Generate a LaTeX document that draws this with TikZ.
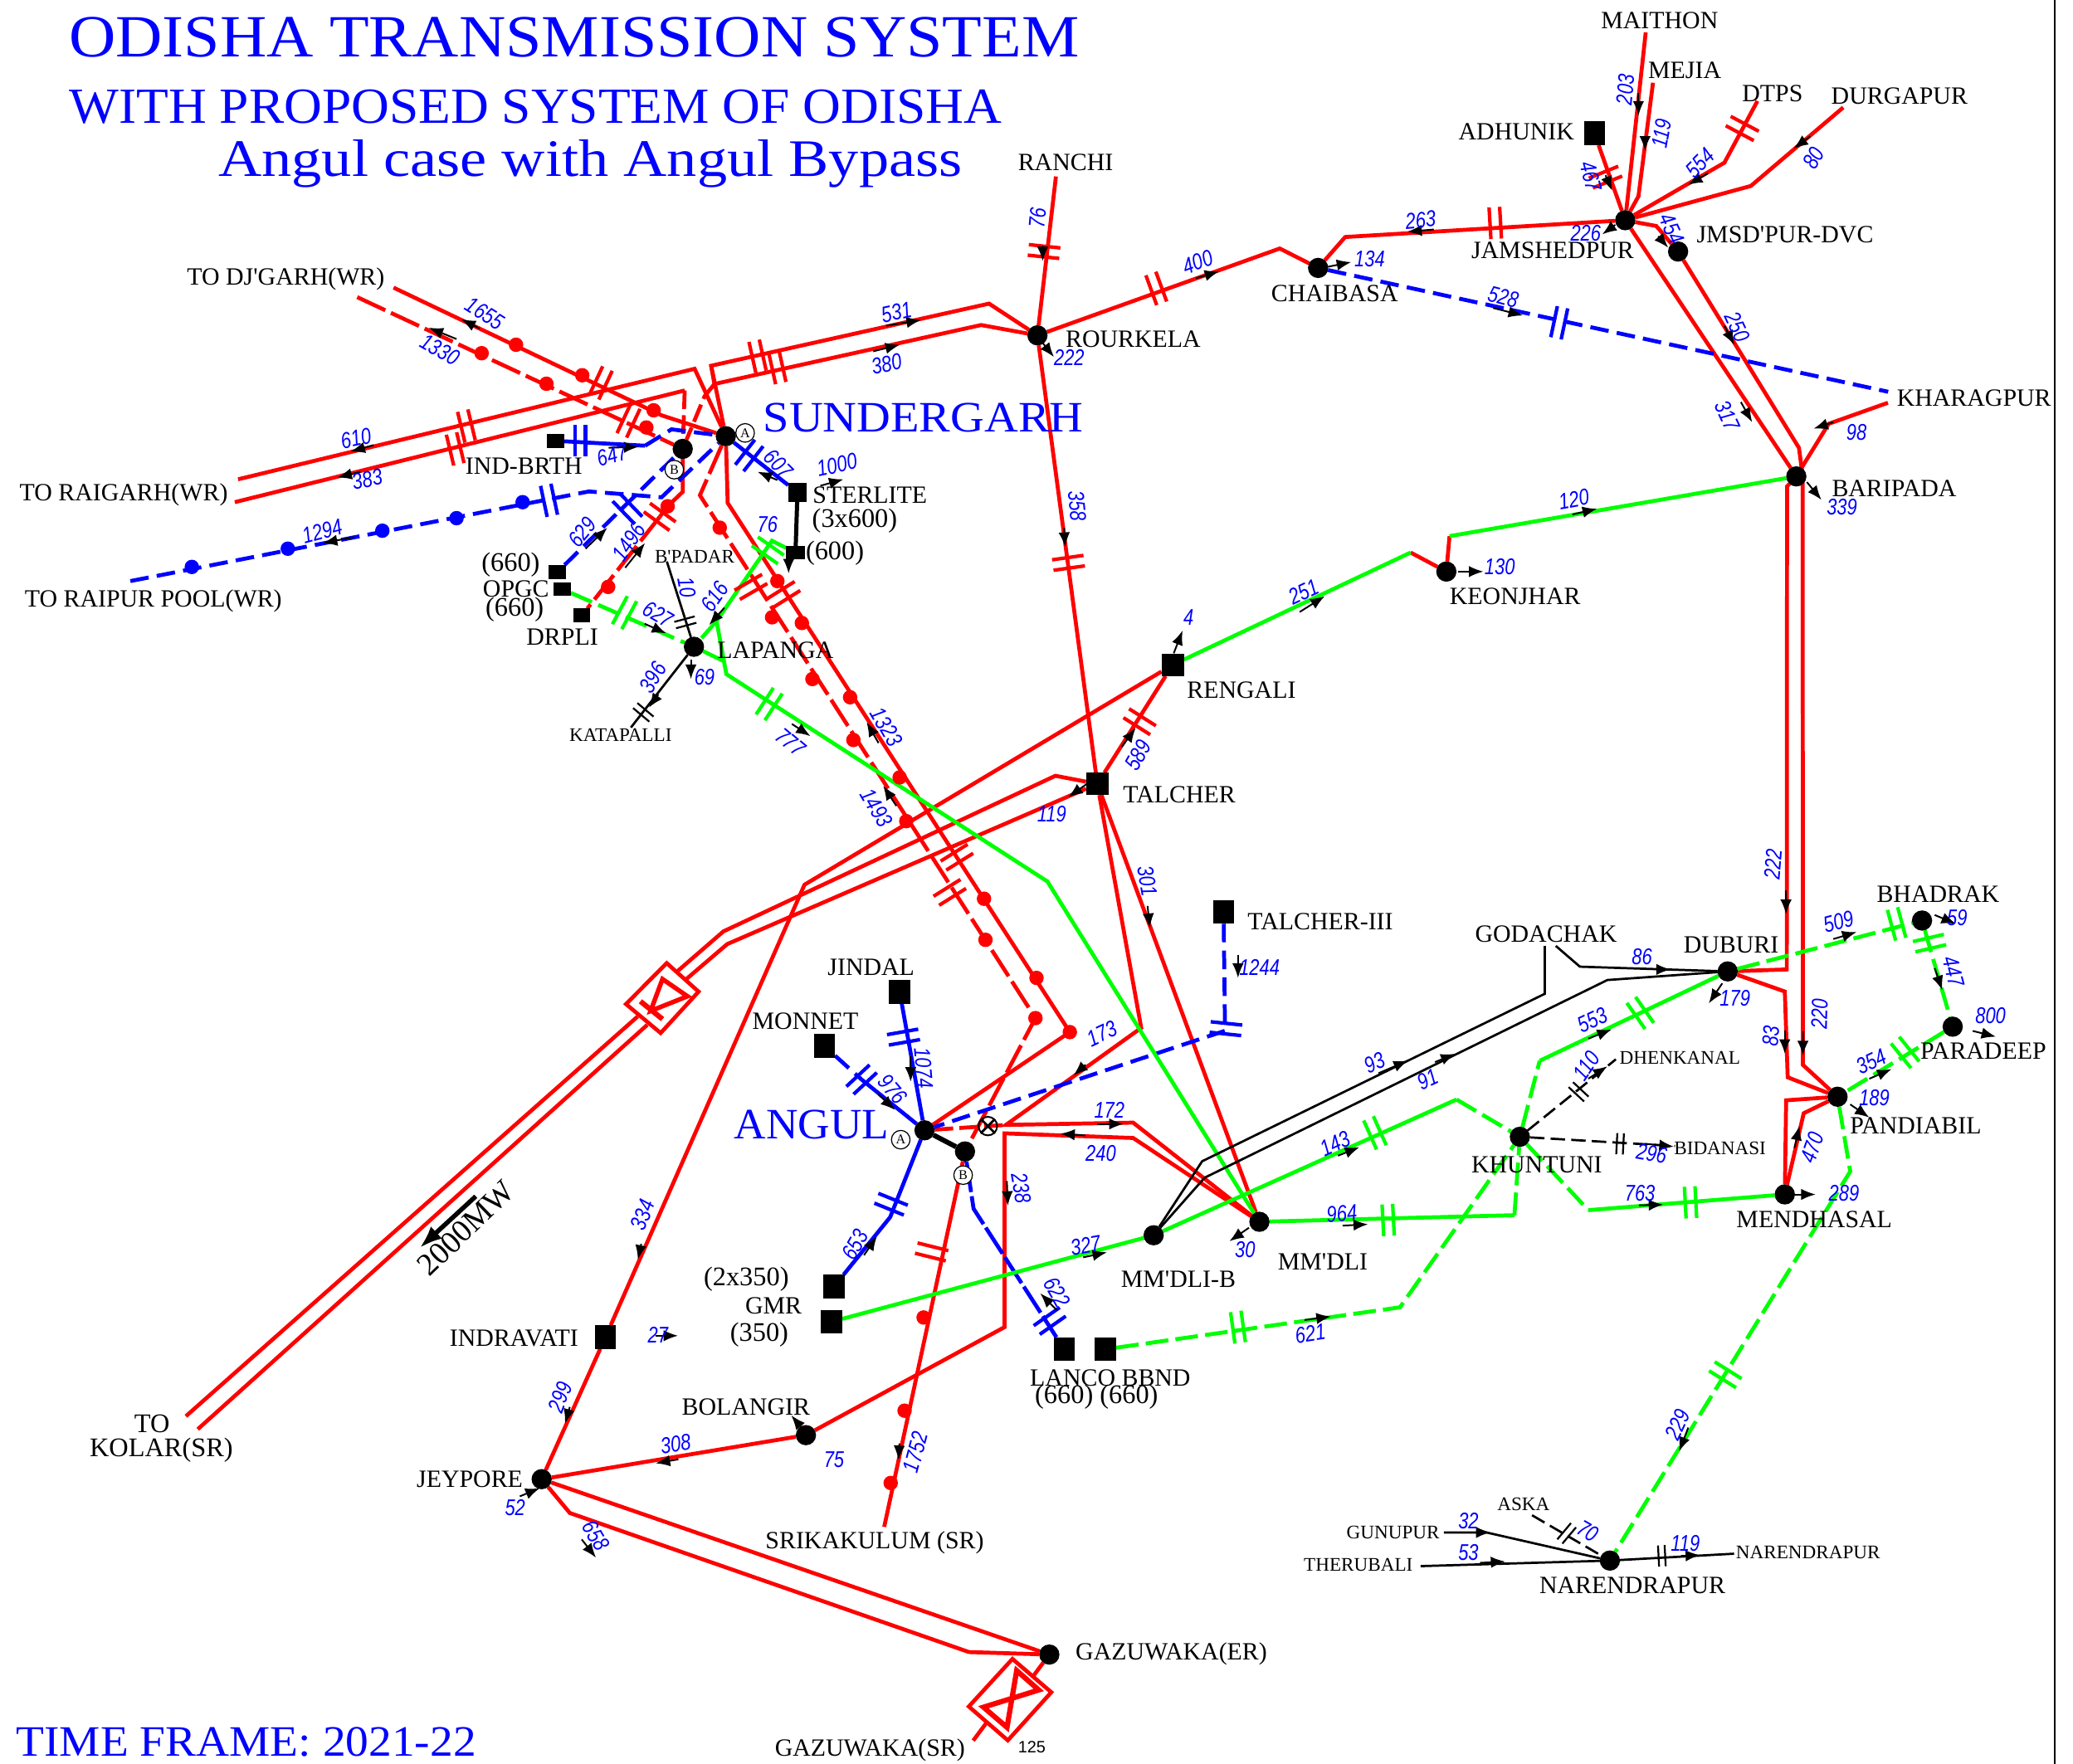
\documentclass[tikz,border=0pt]{standalone}
\usepackage{fontspec}
\usetikzlibrary{arrows.meta}
\setmainfont{Liberation Serif}
\newfontfamily\numf{Liberation Sans}
\newcommand\numtxt[1]{\scalebox{.8}[1]{#1}}
\newcommand\plab[1]{{\fontsize{13}{15}\selectfont #1}}
\definecolor{rd}{rgb}{1,0,0}
\definecolor{bl}{rgb}{0,0,1}
\definecolor{gr}{rgb}{0,1,0}
\pgfdeclarelayer{lines}
\pgfsetlayers{lines,main}
\tikzset{
  stn/.style={circle,fill=black,minimum size=9.8pt,inner sep=0pt,outer sep=0pt},
  sq/.style 2 args={rectangle,fill=black,minimum width=#1*0.64pt,minimum height=#2*0.64pt,inner sep=0pt,outer sep=0pt},
  tagc/.style={circle,draw=black,line width=.5pt,fill=white,minimum size=9pt,inner sep=0pt,font=\fontsize{6.5}{7}\selectfont},
  lab/.style={text=black,inner sep=0pt,font=\fontsize{12}{14}\selectfont},
  labs/.style={text=black,inner sep=0pt,font=\fontsize{9.3}{11}\selectfont},
  ttl/.style={text=bl,anchor=west,inner sep=0pt},
  numlab/.style={text=bl,inner sep=0pt,font=\fontsize{11}{12}\selectfont\numf\itshape},
  lr/.style={draw=rd,line width=1.9pt,line join=miter},
  lrd/.style={lr,dash pattern=on 15pt off 3pt},
  lrs/.style={lr,dash pattern=on 9pt off 3pt},
  lb/.style={draw=bl,line width=1.9pt},
  lbd/.style={lb,dash pattern=on 9pt off 4pt},
  lbw/.style={lb,dash pattern=on 15pt off 2pt},
  lg/.style={draw=gr,line width=1.9pt},
  lgd/.style={lg,dash pattern=on 11pt off 3.5pt},
  lk/.style={draw=black,line width=1.1pt},
  lkd/.style={lk,dash pattern=on 7pt off 3pt},
  flowarrow/.style={draw=black,line width=.8pt,-{Latex[length=7pt,width=5.5pt]}},
  tkr/.style={draw=rd,line width=1.7pt},
  tkb/.style={draw=bl,line width=1.7pt},
  tkg/.style={draw=gr,line width=1.7pt},
  tkk/.style={draw=black,line width=.9pt},
}
\newcommand\tk[4][]{\begin{scope}[shift={(#2,#3)},rotate=#4]\draw[#1] (-4,-12)--(-4,12) (4,-12)--(4,12);\end{scope}}
\newcommand\tks[4][]{\begin{scope}[shift={(#2,#3)},rotate=#4]\draw[#1] (-2.5,-8)--(-2.5,8) (2.5,-8)--(2.5,8);\end{scope}}
\begin{document}
\begin{tikzpicture}[x=0.64pt,y=-0.64pt]
\useasboundingbox (0,0) rectangle (1568,1334.4);
% stations
\foreach \nm/\x/\y in {SUA/549/330,SUB/516.4/339.6,ROU/784.7/253.7,CHA/997/202.7,JAM/1229.3/166.6,DVC/1269.3/190.3,BAR/1358.7/360.4,KEO/1094/432.4,LAP/524.9/489.3,ANA/699.3/855.1,ANB/729.9/871.1,MMB/872.6/934.5,MMD/952.6/924.3,KHU/1149.6/860,DUB/1306.8/734.9,BHA/1453.8/696.4,PAR/1477/776.7,PAN/1389.9/829.7,MEN/1350/903.6,NAR/1217.7/1180.6,GZE/793.7/1251.7,JEY/409.7/1119,BOL/609.6/1085.7}
  \node[stn] (\nm) at (\x,\y) {};
\foreach \nm/\x/\y/\w/\h in {INB/420.3/333.5/13/11,STR/603.2/372.5/14/14,SSX/601.7/418.1/14/10,OPA/421.7/432.7/13/10.5,OPB/425.3/445.7/13/10.5,DRP/440.1/465.6/13/10.5,REN/887/503/17/17,TAL/830/593/17/17,TCT/925.5/689.8/16/18,JIN/680.5/750.4/16/18,MON/623.6/791.4/16/18,GMA/630.8/973.3/16/18,GMB/629/999.9/16/18,IVT/458/1011.5/16/18,LAN/804.9/1020.7/16/18,BBN/836.2/1020.7/16/18,ADH/1206/100.9/16/18}
  \node[sq={\w}{\h}] (\nm) at (\x,\y) {};
% free ends
\foreach \nm/\x/\y in {djs/297.7/217.6,djd/270.2/224.8,raiU/180.1/362.6,raiL/177.6/379.9,raipur/98.6/439.6,ranchi/798.7/133.5,maithon/1244.8/24.5,mejia/1250.3/62.6,dtps/1329.3/76.4,durg/1394.2/81.3,khar/1428/304.7,kharb/1428.2/296.4,kolU/140.6/1071.4,kolL/149.6/1081.2,srik/668.8/1155.1,godA/1168.5/715.6,godB/1176.8/715.6,dhen/1222.2/801.4,bida/1267/867,gunu/1092.1/1159.3,theru/1074.5/1184.8,aska/1158.8/1146.3,nartwo/1311.6/1175.4,bpad/504.4/424.8,kata/477.2/550.4,gzsr/736.1/1316.8}
  \coordinate (\nm) at (\x,\y);
\begin{pgfonlayer}{lines}
% red lines
\draw[lr] (djs)--(500.4,314.2)--(SUA);
\draw[lrd] (djd)--(SUB);
\draw[lr] (raiU)--(525.4,279)--(SUA);
\draw[lr] (raiL)--(517.9,295.4);
\draw[lrs] (517.9,295.4)--(SUB);
\draw[lr] (SUA)--(537.9,276.7)--(748.1,229.7)--(ROU);
\draw[lr] (537.9,276.7)--(540.4,290.5)--(742.1,245.9)--(ROU);
\draw[lrs] (540.4,290.5)--(532.9,299.8)--(SUB);
\draw[lr] (SUB)--(516.5,372)--(505,383)--(499,391);
\draw[lrd] (499,391)--(DRP);
\draw[lr] (SUA)--(550.4,380.5)--(809.2,780.8)--(ANA);
\draw[lrd] (SUA)--(529.4,374.7)--(783.2,770.2)--(ANB);
\draw[lrs] (ANA)--(760.9,851);
\draw[lr] (ranchi)--(ROU);
\draw[lr] (ROU)--(968,188)--(CHA);
\draw[lr] (CHA)--(1017.5,179.3)--(JAM);
\draw[lr] (ADH)--(JAM);
\draw[lr] (maithon)--(JAM);
\draw[lr] (mejia)--(1239.3,148.5)--(JAM);
\draw[lr] (dtps)--(1304.3,123.1)--(JAM);
\draw[lr] (durg)--(1324.3,140.7)--(JAM);
\draw[lr] (JAM)--(1252.8,171)--(DVC);
\draw[lr] (DVC)--(1360.7,338.8)--(1363.5,360)--(1363.7,805.6)--(PAN);
\draw[lr] (JAM)--(BAR);
\draw[lr] (khar)--(1383.2,320.6)--(BAR);
\draw[lr] (BAR)--(1351.7,368)--(1351.5,733.4)--(DUB);
\draw[lr] (DUB)--(1350,750.1)--(1352.2,815)--(PAN);
\draw[lr] (PAN)--(1351,832.4)--(MEN);
\draw[lr] (PAN)--(1364.3,842.2)--(MEN);
\draw[lr] (ROU)--(TAL);
\draw[lr] (TAL)--(REN);
\draw[lr] (REN)--(608.5,669.3)--(IVT)--(JEY);
\draw[lr] (TAL)--(798.3,586.9)--(547.2,704.6)--(512.7,734.5);
\draw[lr] (TAL)--(550.1,714.2)--(519,740.8);
\draw[lr] (482.3,769)--(kolU);
\draw[lr] (489.6,775.3)--(kolL);
\draw[lr] (TAL)--(863.2,777.6)--(760.9,851)--(857.1,849.3)--(MMD);
\draw[lr] (TAL)--(MMD);
\draw[lr] (MMD)--(857.1,860.9)--(759.8,857.4)--(759.8,1004)--(BOL);
\draw[lr] (BOL)--(JEY);
\draw[lr] (ANB)--(srik);
\draw[lr] (JEY)--(GZE);
\draw[lr] (JEY)--(431,1144.6)--(732.9,1249.8)--(GZE);
\draw[lr] (GZE)--(781.5,1268);
\draw[lr] (746,1303.5)--(gzsr);
\draw[lr] (KEO)--(1067,418);
\draw[lr] (KEO)--(1096.4,405.6);
% converter boxes
\draw[lr,line join=miter] (504.3,728.6)--(528.4,750.2)--(499.7,781.5)--(473.5,759.6)--cycle;
\draw[lr,line width=2.5pt] (484.4,757.5)--(501.1,771);
\draw[lr,line width=2.2pt] (501.1,740.7)--(520,753.7)--(492.1,764.8)--cycle;
\draw[lr] (765.8,1255)--(795.2,1280.2)--(762.3,1316.6)--(732.8,1291)--cycle;
\draw[lr,line width=2.5pt] (769,1263.8)--(785.7,1278.5)--(743.9,1291.5)--(761.7,1306.8)--cycle;
% blue lines
\draw[lb] (INB)--(487.9,337.2);
\draw[lbd] (487.9,337.2)--(507.9,324.8)--(SUA);
\draw[lbd] (raipur)--(445.4,371.8)--(500.4,376.2)--(SUA);
\draw[lbd] (OPA)--(SUB);
\draw[lb] (SUA)--(STR);
\draw[lbd] (TCT)--(926.6,779.8)--(ANA);
\draw[lb] (JIN)--(ANA);
\draw[lbd] (MON)--(651.7,816.7);
\draw[lb] (651.7,816.7)--(ANA);
\draw[lb] (ANA)--(673.3,920.8)--(GMA);
\draw[lbw] (ANB)--(736.4,914.4)--(LAN);
\draw[lbd] (CHA)--(kharb);
% green lines
\draw[lg] (SSX)--(583.9,409.1)--(542,469.8)--(549.4,510)--(792.2,666.8)--(MMD);
\draw[lgd] (542,469.8)--(LAP);
\draw[lgd] (OPB)--(LAP);
\draw[lgd] (LAP)--(547.3,500.1);
\draw[lg] (REN)--(1067,418);
\draw[lg] (1096.4,405.6)--(BAR);
\draw[lg] (GMB)--(MMB)--(1101.7,831.8);
\draw[lgd] (1101.7,831.8)--(KHU);
\draw[lg] (MMD)--(1145.5,919.3);
\draw[lgd] (1145.5,919.3)--(KHU);
\draw[lgd] (KHU)--(1201.4,915.5);
\draw[lg] (1201.4,915.5)--(MEN);
\draw[lgd] (KHU)--(1164.6,802.5);
\draw[lg] (1164.6,802.5)--(DUB);
\draw[lgd] (DUB)--(BHA);
\draw[lgd] (BHA)--(1469,749)--(PAR);
\draw[lgd] (PAR)--(PAN);
\draw[lgd] (PAN)--(1399.5,886.2)--(NAR);
\draw[lgd] (BBN)--(1058.9,989)--(KHU);
% black lines
\draw[lk] (MMB)--(909.3,878.5)--(1168.5,751.8)--(godA);
\draw[lk] (MMB)--(911.1,891)--(1215.8,741.4)--(DUB);
\draw[lk] (godB)--(1195,731.3)--(DUB);
\draw[lkd] (KHU)--(dhen);
\draw[lkd] (KHU)--(bida);
\draw[lk] (gunu)--(1124.2,1159.3)--(NAR);
\draw[lk] (theru)--(NAR);
\draw[lkd] (aska)--(NAR);
\draw[lk] (NAR)--(nartwo);
\draw[lk] (bpad)--(LAP);
\draw[lk] (LAP)--(kata);
\draw[black,line width=2.4pt] (ANA)--(ANB);
\draw[black,line width=2pt] (STR)--(SSX);
\draw[black,line width=2.2pt,-{Latex[length=11pt,width=8pt]}] (359.9,905)--(317.4,944.1);
% ticks
\foreach \x/\y/\a in {454.4/289.7/-25,475.4/318.5/-25,352.8/322.3/13.5,344.3/339.6/13.5,573/269.5/12.5,588/278.1/12.5,499/391/54,593/449.7/-58,568/444/-60,723.8/648.5/-58,718.4/675.1/-58,704.7/947.1/76,789.7/190.3/84,808.2/425.8/-82,862/546/57.6,874.6/218.2/20,1131/168.7/3.4,1317.8/97.2/62,1214.4/134/-68}
  \tk[tkr]{\x}{\y}{\a};
\foreach \x/\y/\a in {438.9/333.5/0,415.3/378.5/12,474.6/385/44,566.7/344.6/-38,1179.4/244.2/-12,683.4/784.6/-80,651.7/816.7/-47,674/911/68,927.3/778.2/84,794/999.3/-55}
  \tk[tkb]{\x}{\y}{\a};
\foreach \x/\y/\a in {580.8/416.4/55,472.4/463.5/-28,581.8/532.6/-33,1434.6/698.9/15,1459.5/713.5/-77,1441/796.2/39,1240.7/766.3/35,1278.7/909.6/3,1040/857/24,1050/923/3,936.4/1004/8,1305/1040/58}
  \tk[tkg]{\x}{\y}{\a};
\foreach \x/\y/\a in {518.4/470.8/-75,486.6/538.9/50,1194/826/47,1225.4/865.3/-3,1185/1160/-40,1257/1177/3}
  \tks[tkk]{\x}{\y}{\a};
% line dots
\foreach \x/\y in {390.3/260.8,440.4/283.9,494.4/310.4,364.3/267.2,413.3/290.3,488.9/323.4,505/383,460/444,588/439.6,606.5/471.3,643/527.5,680.5/588.1,744.3/679.9,784/739.8,809.2/780.8,544.4/399.2,584/467,614.5/513.7,645.5/559.8,685.5/621.2,745.4/711,783.2/770.2,698.6/996.7,684.2/1067.2,673.7/1121.9}
  \fill[rd] (\x,\y) circle (3.5pt);
\foreach \x/\y in {145.1/428.9,217.7/415.1,289.2/401.5,345.3/392,395.3/379.9}
  \fill[bl] (\x,\y) circle (3.5pt);
% border
\draw[black,line width=.9pt] (1554,0)--(1554,1334.4);
\end{pgfonlayer}
% flow arrows
\foreach \a/\b/\c/\d in {362.8/248.5/348.8/241.5,345.3/256.5/324.3/247.9,282.7/336.7/265.2/341.6,272.7/356.9/255.2/361.2,670.5/246.4/696.6/242.1,660.5/265.8/680.6/260.8,267.7/406.4/244.2/410.8,460.4/338.7/482.9/338.1,588/363.2/573/356.9,620.5/367.5/638/362.6,442.9/415.1/459.4/399.2,472.9/429.5/487.9/410.8,596.5/422.3/596.5/433.8,547.9/459.8/536.4/472.8,487.6/471.9/504/479.2,522.6/499/522.6/513.7,498/525.3/490.8/535.3,599/547.7/613/556.9,664.5/562.1/655.5/546.3,678/609.7/668/594.4,
788.7/186/788.7/197.5,788.7/259.5/797.2/270.1,904.6/210.5/922.1/205.3,1004.5/201.8/1022/198.3,1084.5/173.6/1064.5/175.3,1221.8/170.1/1211.9/177.3,1214.4/132.6/1219.4/144.2,1239.3/70.6/1239.3/87.4,1244.3/105.2/1244.3/113.9,1291.8/131.2/1276.8/139.8,1369.2/103.2/1356.7/112.4,1254.3/178.7/1261.8/187.4,1129.4/233/1151.9/238.7,1304.3/246.5/1311.8/260.9,1316.8/304.2/1325.3/319.4,1386.7/319.4/1371.7/324.3,1366.7/364.7/1377.7/378.2,1189.4/389.2/1207.9/384.9,1103/432.4/1122/432.4,804.7/399.3/805.7/413.7,983/463/1002/451,887.8/494.2/894.5/477,848.5/565/859/550.7,822.4/592.8/808.1/603,
868/685.4/869.7/702,936.4/722.2/936.4/739.8,821.1/805.5/812/813.5,688.8/799/688.8/818.3,664.3/827.9/677/839.7,830.1/850.3/849.9/850.3,821.1/859/802/857.7,761.6/893.5/762.3/912.1,653.5/949.6/663.3/935.2,1042.7/811.9/1065/802.3,1012/874.3/1028.2/867.9,1015.6/927.2/1034.7/926.2,819.3/951.2/837.3/947.4,799.4/991.2/786.8/978.4,986.8/998.6/1006.6/996,944.7/928.8/929.9/939,680.3/1092/679.6/1104.5,513.1/1104/495.9/1107,605.7/1079.4/598.5/1070.7,431/1064.4/427.4/1076.9,485/941/482.5/952.9,495.9/1010.5/512.8/1010.5,393.2/1132/408.3/1125.8,440/1164.6/450.8/1178.4,
1245.2/733.4/1263.7/733.4,1302.7/743.9/1292.5/759.1,1085.4/803.5/1100.7/797.2,1350.9/673.8/1350.9/691.5,1386.7/710.4/1404.3/705.1,1463.4/692.2/1479.4/698.9,1463.4/732.4/1469.1/749.1,1492.1/779.9/1509.7/784.3,1201.4/785.7/1219/778.8,1201.4/816/1215.8/806.7,1244.5/865.3/1266/867.4,1350/779.4/1350/797.2,1363.7/780.5/1363.7/798.3,1413.9/816.1/1430.8/808.8,1399.5/835.5/1413.9/845.4,1357.3/868.4/1361.1/851.7,1239.7/911.9/1258/911.3,1356.4/903.6/1373.3/903.6,1277/1080/1270/1098,1108.2/1159.3/1127.4/1159.3,1119.4/1182.3/1138.6/1181.3,1271.5/1177.1/1285.9/1176.5}
  \draw[flowarrow] (\a,\b)--(\c,\d);
% tags
\node[tagc] (tagSA) at (563.6,327.5) {A};
\node[tagc] (tagSB) at (510,355.3) {B};
\node[tagc] (tagAA) at (681.3,862.2) {A};
\node[tagc] (tagAB) at (728.5,889) {B};
\node[circle,draw=black,line width=.8pt,minimum size=9pt,inner sep=0pt] (xc) at (747.2,851.9) {};
\draw[black,line width=1.1pt] (xc.north west)--(xc.south east) (xc.north east)--(xc.south west);
% titles
\node[ttl,font=\fontsize{29}{31}\selectfont] (t1) at (52,28) {\scalebox{1.08}[1]{ODISHA TRANSMISSION SYSTEM}};
\node[ttl,font=\fontsize{24.5}{26}\selectfont] (t2) at (52,81) {\scalebox{1.04}[1]{WITH PROPOSED SYSTEM OF ODISHA}};
\node[ttl,font=\fontsize{25.5}{27}\selectfont] (t3) at (165,124) {\scalebox{1.14}[1]{Angul case with Angul Bypass}};
\node[ttl,font=\fontsize{21}{23}\selectfont] (t4) at (12,1318) {\scalebox{1.06}[1]{TIME FRAME: 2021-22}};
\node[ttl,font=\fontsize{21}{24}\selectfont] (t5) at (577,316) {\scalebox{1.08}[1]{SUNDERGARH}};
\node[ttl,font=\fontsize{21}{24}\selectfont] (t6) at (555,851) {\scalebox{1.02}[1]{ANGUL}};
% station labels
\foreach[count=\i] \x/\y/\txt in {216.2/211/{TO DJ\textquotesingle GARH(WR)},93.6/374.2/{TO RAIGARH(WR)},116/454.9/{TO RAIPUR POOL(WR)},396.3/352.5/{IND-BRTH},658/374.7/{STERLITE},646.5/394/{\plab{(3x600)}},631.5/418.5/{\plab{(600)}},386.3/427.2/{\plab{(660)}},390.3/445.4/{OPGC},389.3/461.2/{\plab{(660)}},425.3/482/{DRPLI},586.5/492/{LAPANGA},806/123/{RANCHI},857.1/256.6/{ROURKELA},1009.5/222/{CHAIBASA},1174.4/189.7/{JAMSHEDPUR},1350.2/177.3/{JMSD\textquotesingle PUR-DVC},1147/99.5/{ADHUNIK},1255.3/15.3/{MAITHON},1274.3/53.3/{MEJIA},1340.7/70.6/{DTPS},1436.7/72.9/{DURGAPUR},1493.1/301.3/{KHARAGPUR},1432.7/369.6/{BARIPADA},1146/451/{KEONJHAR},939/522/{RENGALI},892/601/{TALCHER},998.7/697.5/{TALCHER-III},658.9/731.8/{JINDAL},609.2/772.5/{MONNET},564.5/967.9/{\plab{(2x350)}},585.1/988/{GMR},574.3/1009.8/{\plab{(350)}},839.8/1042.5/{LANCO BBND},829.4/1056.9/{\plab{(660) (660)}},891.3/967.9/{MM\textquotesingle DLI-B},1000.5/954.4/{MM\textquotesingle DLI},564.2/1064.3/{BOLANGIR},1169.4/706.8/{GODACHAK},1309.4/714.8/{DUBURI},1465.9/676.5/{BHADRAK},1500.1/795.2/{PARADEEP},1449/851.7/{PANDIABIL},1162.4/881.4/{KHUNTUNI},1372.3/922.4/{MENDHASAL},1234.7/1199.5/{NARENDRAPUR},388.8/1012.5/{INDRAVATI},355.3/1119/{JEYPORE},661.6/1167.1/{SRIKAKULUM (SR)},886/1251/{GAZUWAKA(ER)},658/1323.8/{GAZUWAKA(SR)},115/1077/{\plab{TO}},122/1097/{\plab{KOLAR(SR)}}}
  \node[lab] (st\i) at (\x,\y) {\txt};
\foreach[count=\i] \x/\y/\txt in {525.4/421.4/{B\textquotesingle PADAR},469.4/555.8/{KATAPALLI},1270.7/800.4/{DHENKANAL},1301/868.4/{BIDANASI},1053.7/1159.3/{GUNUPUR},1027.4/1184/{THERUBALI},1152.4/1137.7/{ASKA},1367.6/1174.6/{NARENDRAPUR}}
  \node[labs] (sm\i) at (\x,\y) {\txt};
\node[lab,rotate=44,font=\fontsize{15.3}{18}\selectfont] (mw) at (352.6,929) {2000MW};
\node[inner sep=0pt,font=\fontsize{8}{9}\selectfont\numf] (oneTwoFive) at (780.5,1322) {125};
% flow numbers
\foreach[count=\i] \x/\y/\r/\txt in {366.8/237.2/-32/1655,332.8/264.3/-30/1330,269.2/331.5/12/610,277.7/362.6/12/383,678/236.3/12/531,670.5/275.3/12/380,243.7/402.1/15/1294,462.9/344.5/15/647,589/351/-45/607,633/351.7/12/1000,440.4/402.7/50/629,475.4/409.9/55/1496,580.5/397/0/76,519.4/444.5/-80/10,540.4/451.1/55/616,497.9/465/-30/627,493.9/512.5/60/396,532.9/512.2/0/69,598/561.5/-40/777,670.5/550/-60/1323,663/611.1/-60/1493,
784.7/165/85/76,906/198.3/20/400,1036/196/0/134,1074.5/166.4/5/263,1199.4/176.4/0/226,1203.4/133.5/-75/467,1229.3/67.8/85/203,1256.8/100.9/80/119,1285.8/123.4/45/554,1371.7/119.6/60/80,1264.3/173/-65/454,1137/224.9/-15/528,1314.3/247.4/-65/250,1306.8/314.3/-65/317,1404.2/327.2/0/98,1393.2/383.4/0/339,1190.4/377.7/10/120,1134.4/428.7/0/130,808.7/270.4/0/222,814.7/382.9/-85/358,986/448/25/251,899/467/0/4,861/571.3/60/589,795.5/615.6/0/119,
867.9/666.8/-80/301,952.6/731.8/0/1244,833.7/782/25/173,698.6/808/-85/1074,675.1/824/-50/976,839.1/839.7/0/172,832.6/872.7/0/240,772.4/899/-80/238,647/941.6/60/653,1010.2/865.4/25/143,1039.8/803.9/25/93,1014.9/918.2/5/964,821.1/942.2/10/327,799.4/977.5/-60/622,991.1/1008.9/8/621,941.8/945.4/0/30,630.8/1104/0/75,692.4/1098.5/75/1752,511/1092.5/8/308,497.7/1009.8/0/27,423.8/1056.9/70/299,389.6/1140.8/0/52,450.8/1161.6/-60/658,486/919/70/334,
1242/724/0/86,1312.3/755.4/0/179,1390.5/697.2/15/509,1480.3/694/0/59,1477.8/734.9/-75/447,1505.6/768.6/0/800,1415.5/803.1/25/354,1417.7/830.7/0/189,1204.6/771.7/25/553,1199.8/806.2/55/110,1249.3/872.6/-10/296,1370.7/868.4/70/470,1394.7/902.5/0/289,1240.4/902.5/0/763,1339.4/783.6/85/83,1376.2/766.9/88/220,1341/654/85/222,1080/816.5/25/91,1269/1078/65/229,1110.7/1150.9/0/32,1110.7/1174.4/0/53,1201/1158.3/-30/70,1274.7/1167.3/0/119}
  \node[numlab,rotate=\r] (num\i) at (\x,\y) {\numtxt{\txt}};
\end{tikzpicture}
\end{document}
